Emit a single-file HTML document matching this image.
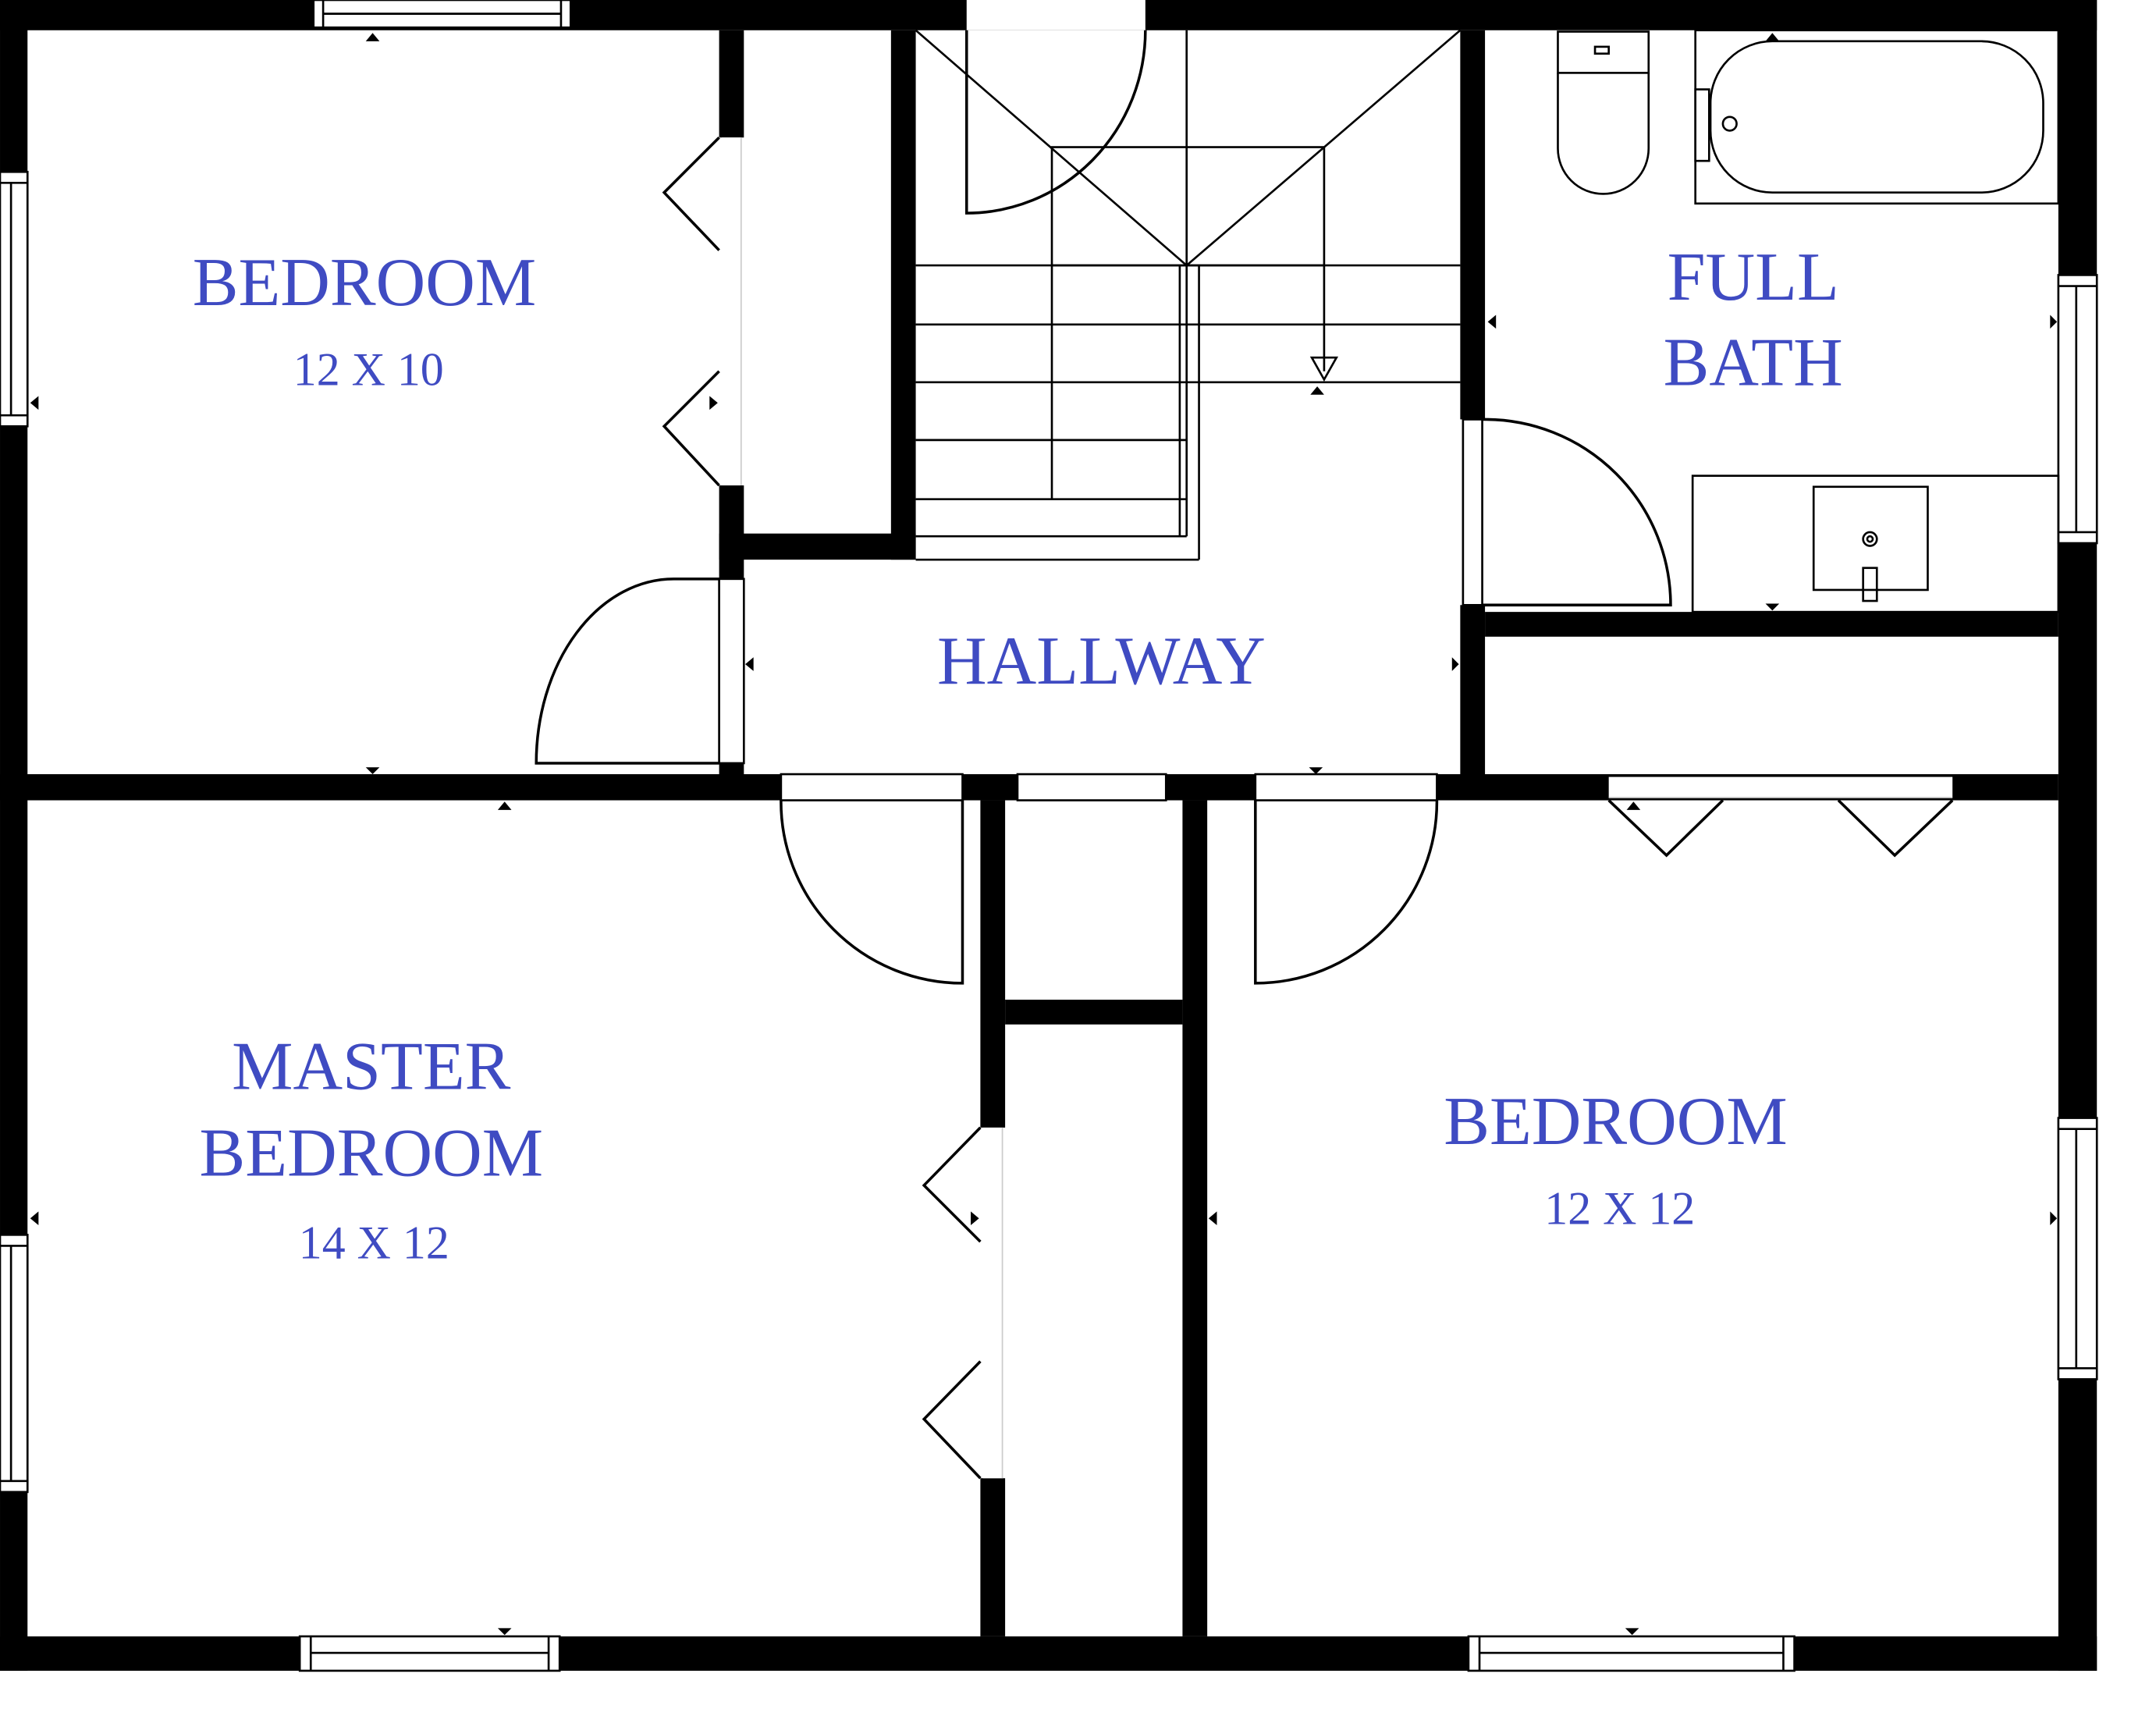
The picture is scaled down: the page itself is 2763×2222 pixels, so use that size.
<!DOCTYPE html>
<html><head><meta charset="utf-8"><style>
html,body{margin:0;padding:0;background:#fff;}
svg{display:block;}
text{font-family:"Liberation Serif",serif;fill:#3f4bc2;}
</style></head><body>
<svg width="2763" height="2222" viewBox="0 0 1568 1261" xmlns="http://www.w3.org/2000/svg">
<rect width="1568" height="1261" fill="#fff"/>
<g fill="#000">
<!-- outer walls -->
<rect x="0" y="0" width="1525" height="22"/>
<rect x="0" y="0" width="20" height="1215"/>
<rect x="1497" y="0" width="28" height="1215"/>
<rect x="0" y="1190" width="1525" height="25"/>
<!-- middle horizontal wall -->
<rect x="0" y="563" width="1497" height="19"/>
<!-- vertical walls upper -->
<rect x="523" y="22" width="18" height="78"/>
<rect x="523" y="353" width="18" height="68"/>
<rect x="523" y="555" width="18" height="10"/>
<rect x="648" y="22" width="18" height="385"/>
<rect x="523" y="388" width="143" height="19"/>
<rect x="1062" y="22" width="18" height="283"/>
<rect x="1062" y="440" width="18" height="125"/>
<rect x="1080" y="445" width="417" height="18"/>
<!-- lower walls -->
<rect x="713" y="582" width="18" height="238"/>
<rect x="713" y="1075" width="18" height="115"/>
<rect x="860" y="582" width="18" height="608"/>
<rect x="731" y="727" width="129" height="18"/>
</g>
<g fill="#fff" stroke="#000" stroke-width="1.5">
<!-- windows -->
<rect x="228" y="0" width="187" height="20"/><line x1="235" y1="0" x2="235" y2="20"/><line x1="408" y1="0" x2="408" y2="20"/><line x1="235" y1="10" x2="408" y2="10"/>
<rect x="0" y="125" width="20" height="185"/><line x1="0" y1="133" x2="20" y2="133"/><line x1="0" y1="302" x2="20" y2="302"/><line x1="8" y1="133" x2="8" y2="302"/>
<rect x="0" y="898" width="20" height="187"/><line x1="0" y1="906" x2="20" y2="906"/><line x1="0" y1="1077" x2="20" y2="1077"/><line x1="8" y1="906" x2="8" y2="1077"/>
<rect x="1497" y="200" width="28" height="195"/><line x1="1497" y1="208" x2="1525" y2="208"/><line x1="1497" y1="387" x2="1525" y2="387"/><line x1="1510" y1="208" x2="1510" y2="387"/>
<rect x="1497" y="813" width="28" height="190"/><line x1="1497" y1="821" x2="1525" y2="821"/><line x1="1497" y1="995" x2="1525" y2="995"/><line x1="1510" y1="821" x2="1510" y2="995"/>
<rect x="218" y="1190" width="189" height="25"/><line x1="226" y1="1190" x2="226" y2="1215"/><line x1="399" y1="1190" x2="399" y2="1215"/><line x1="226" y1="1202" x2="399" y2="1202"/>
<rect x="1068" y="1190" width="237" height="25"/><line x1="1076" y1="1190" x2="1076" y2="1215"/><line x1="1297" y1="1190" x2="1297" y2="1215"/><line x1="1076" y1="1202" x2="1297" y2="1202"/>
</g>
<!-- openings -->
<g fill="#fff" stroke="none">
<rect x="703" y="0" width="130" height="22"/>
<rect x="525" y="100" width="14" height="253"/>
<rect x="715" y="820" width="14" height="255"/>
<rect x="1170" y="565" width="250" height="15"/>
</g>
<g fill="#fff" stroke="#000" stroke-width="1.5">
<rect x="523" y="421" width="18" height="134"/>
<rect x="1064" y="305" width="14" height="135"/>
<rect x="568" y="563" width="132" height="19"/>
<rect x="740" y="563" width="108" height="19"/>
<rect x="913" y="563" width="132" height="19"/>
</g>
<g fill="none" stroke="#000" stroke-width="2">
<!-- door swings -->
<path d="M703 22 L703 155 A130 133 0 0 0 833 22"/>
<path d="M523 421 L490 421 A100 134 0 0 0 390 555 L523 555"/>
<path d="M1078 305 L1080 305 A135 135 0 0 1 1215 440 L1078 440"/>
<path d="M568 582 A132 132 0 0 0 700 715 L700 582"/>
<path d="M913 582 L913 715 A132 132 0 0 0 1045 582"/>
<!-- bifolds -->
<path d="M523 100 L483 140 L523 182"/>
<path d="M523 270 L483 310 L523 353"/>
<path d="M713 820 L672 862 L713 903"/>
<path d="M713 990 L672 1032 L713 1075"/>
<path d="M1170 582 L1212 622 L1253 582"/>
<path d="M1337 582 L1378 622 L1420 582"/>
</g>
<line x1="539" y1="100" x2="539" y2="353" stroke="#ccc"/>
<line x1="729" y1="820" x2="729" y2="1075" stroke="#ccc"/>
<line x1="1170" y1="580" x2="1420" y2="580" stroke="#ccc"/>
<!-- stairs -->
<g fill="none" stroke="#000" stroke-width="1.5">
<line x1="666" y1="22" x2="863" y2="193"/>
<line x1="1062" y1="22" x2="863" y2="193"/>
<line x1="863" y1="22" x2="863" y2="193"/>
<rect x="765" y="107" width="198" height="86"/>
<line x1="666" y1="193" x2="1062" y2="193"/>
<line x1="666" y1="236" x2="1062" y2="236"/>
<line x1="666" y1="278" x2="1062" y2="278"/>
<line x1="666" y1="320" x2="863" y2="320"/>
<line x1="666" y1="363" x2="863" y2="363"/>
<line x1="666" y1="390" x2="863" y2="390"/>
<line x1="765" y1="193" x2="765" y2="363"/>
<line x1="858" y1="193" x2="858" y2="390"/>
<line x1="863" y1="193" x2="863" y2="390"/>
<line x1="872" y1="193" x2="872" y2="407"/>
<line x1="666" y1="407" x2="872" y2="407"/>
<line x1="963" y1="193" x2="963" y2="270"/>
<path d="M954 260 L972 260 L963 276 Z"/>
</g>
<!-- bath fixtures -->
<g fill="none" stroke="#000" stroke-width="1.5">
<rect x="1133" y="23" width="66" height="30"/>
<rect x="1160" y="34" width="10" height="5"/>
<path d="M1133 53 L1133 108 A33 33 0 0 0 1199 108 L1199 53"/>
<rect x="1233" y="22" width="264" height="126"/>
<rect x="1244" y="30" width="242" height="110" rx="45"/>
<rect x="1233" y="65" width="10" height="52"/>
<circle cx="1258" cy="90" r="5"/>
<rect x="1231" y="346" width="266" height="99"/>
<rect x="1319" y="354" width="83" height="75"/>
<circle cx="1360" cy="392" r="5"/><circle cx="1360" cy="392" r="2"/>
<rect x="1355" y="413" width="10" height="24"/>
</g>
<!-- small triangle markers -->
<g fill="#000">
<path d="M266 30 L276 30 L271 24 Z"/>
<path d="M266 558 L276 558 L271 563 Z"/>
<path d="M362 589 L372 589 L367 583 Z"/>
<path d="M362 1184 L372 1184 L367 1189 Z"/>
<path d="M1284 30 L1294 30 L1289 24 Z"/>
<path d="M1284 439 L1294 439 L1289 444 Z"/>
<path d="M952 558 L962 558 L957 563 Z"/>
<path d="M953 287 L963 287 L958 281 Z"/>
<path d="M1183 589 L1193 589 L1188 583 Z"/>
<path d="M1182 1184 L1192 1184 L1187 1189 Z"/>
<path d="M28 288 L28 298 L22 293 Z"/>
<path d="M28 881 L28 891 L22 886 Z"/>
<path d="M516 288 L516 298 L522 293 Z"/>
<path d="M548 478 L548 488 L542 483 Z"/>
<path d="M1056 478 L1056 488 L1061 483 Z"/>
<path d="M1088 229 L1088 239 L1082 234 Z"/>
<path d="M1491 229 L1491 239 L1496 234 Z"/>
<path d="M706 881 L706 891 L712 886 Z"/>
<path d="M885 881 L885 891 L879 886 Z"/>
<path d="M1491 881 L1491 891 L1496 886 Z"/>
</g>
<!-- labels -->
<text x="265" y="222" font-size="50" text-anchor="middle">BEDROOM</text>
<text x="268" y="280" font-size="34" text-anchor="middle">12 X 10</text>
<text x="801" y="497" font-size="50" text-anchor="middle">HALLWAY</text>
<text x="1275" y="218" font-size="50" text-anchor="middle">FULL</text>
<text x="1275" y="280" font-size="50" text-anchor="middle">BATH</text>
<text x="270" y="792" font-size="50" text-anchor="middle">MASTER</text>
<text x="270" y="855" font-size="50" text-anchor="middle">BEDROOM</text>
<text x="272" y="915" font-size="34" text-anchor="middle">14 X 12</text>
<text x="1175" y="832" font-size="50" text-anchor="middle">BEDROOM</text>
<text x="1178" y="890" font-size="34" text-anchor="middle">12 X 12</text>
</svg>
</body></html>
